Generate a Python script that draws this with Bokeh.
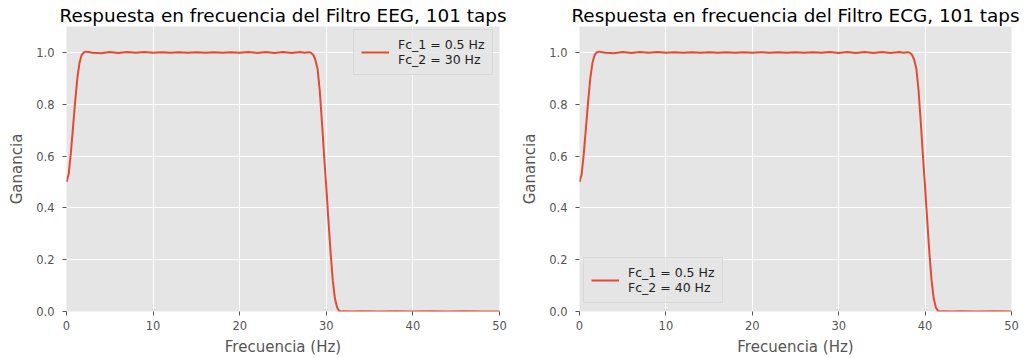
from bokeh.plotting import figure
from bokeh.layouts import row
from bokeh.models import Legend, LegendItem, FixedTicker, PrintfTickFormatter, Range1d
from bokeh.embed import file_html
from bokeh.resources import INLINE

# ---- data ----
eeg_freq = [0, 0.25, 0.5, 0.75, 1.0, 1.25, 1.5, 1.75, 2.0, 2.25, 2.5,
            3, 4, 5, 6, 7, 8, 9, 10, 11, 12, 13, 14, 15, 16, 17, 18, 19, 20,
            21, 22, 23, 24, 25, 26, 27, 27.5, 28, 28.25, 28.5, 28.75, 29,
            29.25, 29.5, 29.75, 30, 30.25, 30.5, 30.75, 31, 31.25, 31.5,
            31.75, 32, 33, 34, 36, 38, 40, 42, 44, 46, 48, 50]
eeg_gain = [0.50, 0.53, 0.61, 0.71, 0.81, 0.90, 0.96, 0.99, 1.0, 1.003, 1.002,
            0.999, 0.997, 1.002, 0.998, 1.002, 0.999, 1.002, 0.999, 1.001, 0.999,
            1.001, 0.999, 1.001, 0.999, 1.001, 0.999, 1.001, 0.999, 1.002, 0.998,
            1.002, 0.998, 1.002, 0.998, 1.002, 0.999, 1.001, 0.998, 0.99, 0.97,
            0.935, 0.85, 0.73, 0.60, 0.48, 0.35, 0.225, 0.12, 0.05, 0.015, 0.002,
            0.0, 0.001, 0.0, 0.001, 0.0, 0.001, 0.0, 0.001, 0.0, 0.001, 0.0, 0.0]

ecg_freq = [0, 0.25, 0.5, 0.75, 1.0, 1.25, 1.5, 1.75, 2.0, 2.25, 2.5,
            3, 4, 5, 6, 7, 8, 9, 10, 11, 12, 13, 14, 15, 16, 17, 18, 19, 20,
            21, 22, 23, 24, 25, 26, 27, 28, 29, 30, 31, 32, 33, 34, 35, 36,
            37, 37.5, 38, 38.25, 38.5, 38.75, 39, 39.25, 39.5, 39.75, 40,
            40.25, 40.5, 40.75, 41, 41.25, 41.5, 41.75, 42, 43, 44, 46, 48, 50]
ecg_gain = [0.50, 0.53, 0.61, 0.71, 0.81, 0.90, 0.96, 0.99, 1.0, 1.003, 1.002,
            0.999, 0.997, 1.002, 0.998, 1.002, 0.999, 1.002, 0.999, 1.001, 0.999,
            1.001, 0.999, 1.001, 0.999, 1.001, 0.999, 1.001, 0.999, 1.001, 0.999,
            1.001, 0.999, 1.001, 0.999, 1.001, 0.999, 1.002, 0.998, 1.002, 0.998,
            1.002, 0.998, 1.002, 0.998, 1.002, 0.999, 1.001, 0.998, 0.99, 0.97,
            0.935, 0.85, 0.73, 0.60, 0.48, 0.35, 0.225, 0.12, 0.05, 0.015, 0.002,
            0.0, 0.001, 0.0, 0.001, 0.0, 0.001, 0.0]

titles = ["Respuesta en frecuencia del Filtro EEG, 101 taps",
          "Respuesta en frecuencia del Filtro ECG, 101 taps"]
labels = ["Fc_1 = 0.5 Hz\nFc_2 = 30 Hz", "Fc_1 = 0.5 Hz\nFc_2 = 40 Hz"]
x_ticks = [0, 10, 20, 30, 40, 50]
y_ticks = [0.0, 0.2, 0.4, 0.6, 0.8, 1.0]

FONT = "DejaVu Sans"
LINE_COLOR = "#E24A33"


def make_fig(title, freq, gain, label, width, left, right, legend_loc):
    p = figure(width=width, height=358, output_backend="svg", toolbar_location=None,
               x_range=Range1d(0, 50), y_range=Range1d(0, 1.1),
               min_border_left=left, min_border_right=right,
               min_border_top=26, min_border_bottom=47)
    p.title.text = title
    p.title.text_font = FONT
    p.title.text_font_size = "18.4px"
    p.title.text_font_style = "normal"
    p.title.text_color = "#000000"
    p.title.align = "center"
    p.title.standoff = 2
    p.background_fill_color = "#E5E5E5"
    p.border_fill_color = "#FFFFFF"
    p.outline_line_color = None

    for ax in (p.xaxis[0], p.yaxis[0]):
        ax.axis_line_color = None
        ax.major_tick_line_color = "#555555"
        ax.major_tick_out = 4
        ax.major_tick_in = 0
        ax.minor_tick_line_color = None
        ax.major_label_text_font = FONT
        ax.major_label_text_font_size = "11.5px"
        ax.major_label_text_color = "#555555"
        ax.axis_label_text_font = FONT
        ax.axis_label_text_font_size = "15px"
        ax.axis_label_text_font_style = "normal"
        ax.axis_label_text_color = "#555555"
    p.xaxis[0].ticker = FixedTicker(ticks=x_ticks)
    p.yaxis[0].ticker = FixedTicker(ticks=y_ticks)
    p.yaxis[0].formatter = PrintfTickFormatter(format="%.1f")
    p.xaxis[0].axis_label = "Frecuencia (Hz)"
    p.yaxis[0].axis_label = "Ganancia"
    p.xaxis[0].major_label_standoff = 5
    p.yaxis[0].major_label_standoff = 8
    p.xaxis[0].axis_label_standoff = 5
    p.yaxis[0].axis_label_standoff = 7

    p.grid.grid_line_color = "#FFFFFF"
    p.grid.grid_line_width = 1

    r = p.line(freq, gain, line_color=LINE_COLOR, line_width=2)

    leg = Legend(items=[LegendItem(label=label, renderers=[r])],
                 location=legend_loc, margin=0, padding=7, spacing=0,
                 glyph_width=28, glyph_height=20, label_standoff=9,
                 label_text_font=FONT, label_text_font_size="12.5px",
                 label_text_color="#222222", label_text_line_height=1.2,
                 background_fill_color="#E5E5E5", background_fill_alpha=0.8,
                 border_line_color="#CCCCCC", border_line_width=1)
    p.add_layout(leg)
    return p


p1 = make_fig(titles[0], eeg_freq, eeg_gain, labels[0], 512, 66, 13, (287, 236))
p2 = make_fig(titles[1], ecg_freq, ecg_gain, labels[1], 514, 67, 15, (4, 8))

layout = row(p1, p2)
open("out.html", "w").write(file_html(layout, INLINE))
